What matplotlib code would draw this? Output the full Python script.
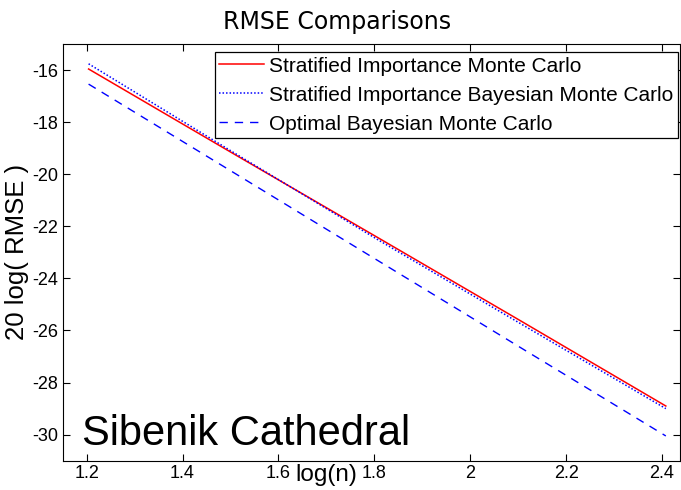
import matplotlib
matplotlib.use("Agg")
import matplotlib.pyplot as plt

plt.rcParams['font.family'] = ['Liberation Sans', 'DejaVu Sans']

# Data
log_n = [1.204, 1.505, 1.806, 2.107, 2.408]
simc = [-15.96, -19.20, -22.42, -25.65, -28.90]
sibmc = [-15.76, -19.15, -22.50, -25.76, -29.00]
obmc = [-16.54, -19.92, -23.30, -26.68, -30.05]
labels = ["Stratified Importance Monte Carlo",
          "Stratified Importance Bayesian Monte Carlo",
          "Optimal Bayesian Monte Carlo"]
xticks = [1.2, 1.4, 1.6, 1.8, 2.0, 2.2, 2.4]
xticklabels = ["1.2", "1.4", "1.6", "1.8", "2", "2.2", "2.4"]
yticks = [-30, -28, -26, -24, -22, -20, -18, -16]

W, H = 681, 490
fig = plt.figure(figsize=(W/100, H/100), dpi=100)
left, right, top, bottom = 62.7, 680.5, 44, 460.7
ax = fig.add_axes([left/W, 1-bottom/H, (right-left)/W, (bottom-top)/H])

ax.plot(log_n, simc, color='#ff0000', lw=1.1, label=labels[0])
ax.plot(log_n, sibmc, color='#0000ff', lw=1.1, ls=(0, (1, 1.3)), label=labels[1])
ax.plot(log_n, obmc, color='#0000ff', lw=1.0, ls=(0, (6, 5)), label=labels[2])

ax.set_xlim(1.15, 2.4386)
ax.set_ylim(-31, -15)
ax.set_xticks(xticks)
ax.set_xticklabels(xticklabels)
ax.set_yticks(yticks)
ax.set_yticklabels([str(v) for v in yticks])
ax.tick_params(direction='in', length=5, width=0.8, top=True, right=True,
               labelsize=13, colors='black', pad=3.2)
for s in ax.spines.values():
    s.set_linewidth(0.8)

ax.set_title("RMSE Comparisons", fontsize=17, pad=11,
             x=(337.5-left)/(right-left), family='DejaVu Sans')
ax.set_ylabel("20 log( RMSE )", fontsize=18.5, labelpad=2)
ax.set_xlabel("log(n)", fontsize=17.5, va='top')
ax.xaxis.set_label_coords((326-left)/(right-left), -0.008)

ax.text(1.19, -30.41, "Sibenik Cathedral", fontsize=30, ha='left', va='baseline')

leg = ax.legend(loc='upper right', bbox_to_anchor=(678/W, 1-52/H),
                bbox_transform=fig.transFigure, borderaxespad=0,
                fontsize=15, fancybox=False, framealpha=1, edgecolor='black',
                handlelength=2.15, handletextpad=0.25, borderpad=0.22,
                labelspacing=0.48)
leg.get_frame().set_linewidth(0.9)

fig.savefig("out.png", dpi=100)
